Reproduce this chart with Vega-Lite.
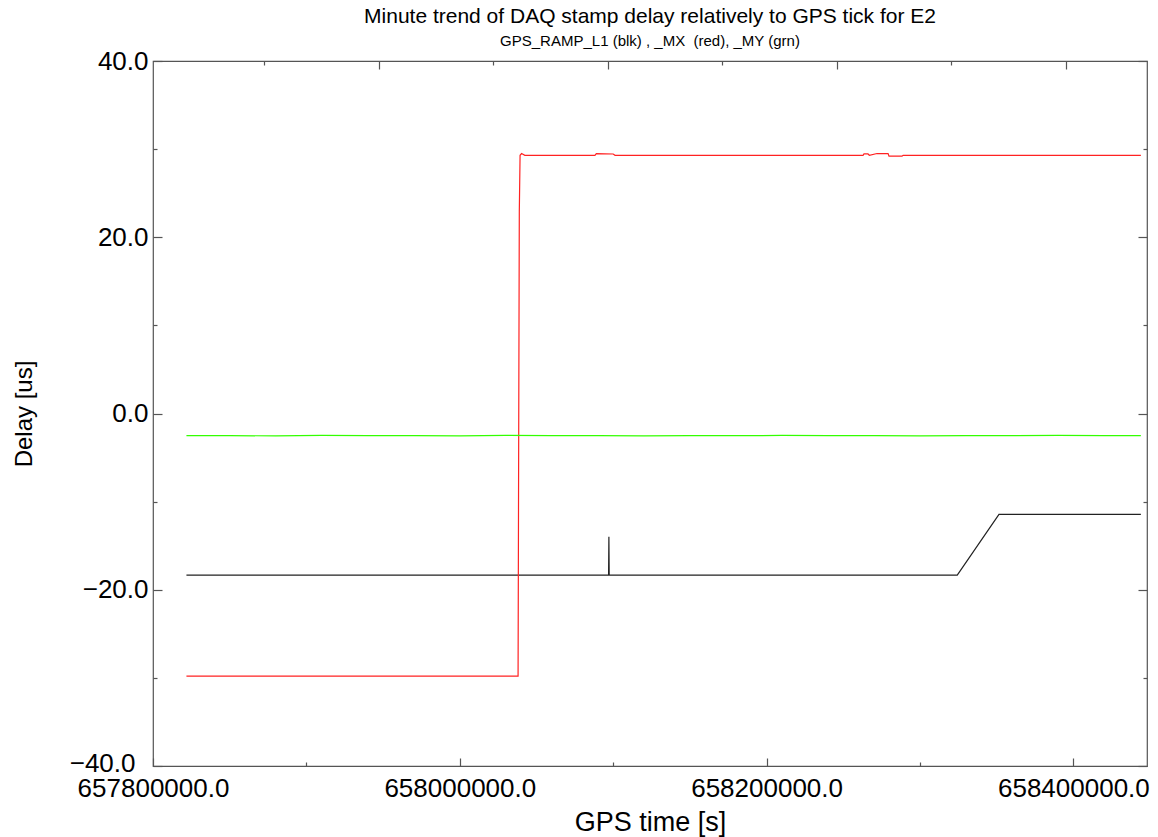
{
  "$schema": "https://vega.github.io/schema/vega-lite/v6.json",
  "autosize": "none",
  "width": 994,
  "height": 705,
  "padding": {"left": 153, "top": 61, "right": 11, "bottom": 71},
  "background": "white",
  "config": {
    "font": "Liberation Sans",
    "view": {"stroke": "#555555", "strokeWidth": 1.2},
    "axis": {"domain": false, "grid": false, "tickColor": "#555555", "tickWidth": 1.2, "labelFont": "Liberation Sans", "titleFont": "Liberation Sans", "labelColor": "#000", "titleColor": "#000", "titleFontWeight": "normal"}
  },
  "title": {
    "text": "Minute trend of DAQ stamp delay relatively to GPS tick for E2",
    "subtitle": "GPS_RAMP_L1 (blk) , _MX \u00a0(red), _MY (grn)",
    "anchor": "middle",
    "frame": "group",
    "fontSize": 21,
    "fontWeight": "normal",
    "color": "#000",
    "subtitleFontSize": 15,
    "subtitleColor": "#000",
    "subtitlePadding": 7,
    "offset": -1
  },
  "datasets": {
    "series": [
      {"s": "L1", "t": 657821800, "v": -18.33},
      {"s": "L1", "t": 657850000, "v": -18.33},
      {"s": "L1", "t": 657900000, "v": -18.33},
      {"s": "L1", "t": 657950000, "v": -18.33},
      {"s": "L1", "t": 658000000, "v": -18.33},
      {"s": "L1", "t": 658050000, "v": -18.33},
      {"s": "L1", "t": 658097000, "v": -18.33},
      {"s": "L1", "t": 658097200, "v": -13.98},
      {"s": "L1", "t": 658097400, "v": -18.33},
      {"s": "L1", "t": 658150000, "v": -18.33},
      {"s": "L1", "t": 658250000, "v": -18.33},
      {"s": "L1", "t": 658324300, "v": -18.33},
      {"s": "L1", "t": 658351500, "v": -11.44},
      {"s": "L1", "t": 658400000, "v": -11.44},
      {"s": "L1", "t": 658444000, "v": -11.44},
      {"s": "MX", "t": 657821800, "v": -29.8},
      {"s": "MX", "t": 657900000, "v": -29.8},
      {"s": "MX", "t": 658038000, "v": -29.8},
      {"s": "MX", "t": 658038300, "v": -9.3},
      {"s": "MX", "t": 658038800, "v": 22.9},
      {"s": "MX", "t": 658039300, "v": 29.3},
      {"s": "MX", "t": 658040300, "v": 29.5},
      {"s": "MX", "t": 658042400, "v": 29.3},
      {"s": "MX", "t": 658088100, "v": 29.3},
      {"s": "MX", "t": 658089000, "v": 29.5},
      {"s": "MX", "t": 658100000, "v": 29.45},
      {"s": "MX", "t": 658101200, "v": 29.3},
      {"s": "MX", "t": 658262900, "v": 29.3},
      {"s": "MX", "t": 658263500, "v": 29.45},
      {"s": "MX", "t": 658266100, "v": 29.45},
      {"s": "MX", "t": 658267000, "v": 29.3},
      {"s": "MX", "t": 658272000, "v": 29.5},
      {"s": "MX", "t": 658279200, "v": 29.5},
      {"s": "MX", "t": 658279800, "v": 29.2},
      {"s": "MX", "t": 658288300, "v": 29.2},
      {"s": "MX", "t": 658289000, "v": 29.3},
      {"s": "MX", "t": 658444000, "v": 29.3},
      {"s": "MY", "t": 657821800, "v": -2.52},
      {"s": "MY", "t": 657850000, "v": -2.5},
      {"s": "MY", "t": 657880000, "v": -2.55},
      {"s": "MY", "t": 657910000, "v": -2.48},
      {"s": "MY", "t": 657940000, "v": -2.52},
      {"s": "MY", "t": 657970000, "v": -2.5},
      {"s": "MY", "t": 658000000, "v": -2.53},
      {"s": "MY", "t": 658030000, "v": -2.49},
      {"s": "MY", "t": 658060000, "v": -2.52},
      {"s": "MY", "t": 658090000, "v": -2.5},
      {"s": "MY", "t": 658120000, "v": -2.54},
      {"s": "MY", "t": 658150000, "v": -2.5},
      {"s": "MY", "t": 658180000, "v": -2.52},
      {"s": "MY", "t": 658210000, "v": -2.49},
      {"s": "MY", "t": 658240000, "v": -2.52},
      {"s": "MY", "t": 658270000, "v": -2.5},
      {"s": "MY", "t": 658300000, "v": -2.53},
      {"s": "MY", "t": 658330000, "v": -2.5},
      {"s": "MY", "t": 658360000, "v": -2.52},
      {"s": "MY", "t": 658390000, "v": -2.49},
      {"s": "MY", "t": 658420000, "v": -2.52},
      {"s": "MY", "t": 658444000, "v": -2.5}
    ]
  },
  "data": {"name": "series"},
  "resolve": {"axis": {"x": "independent", "y": "independent"}},
  "layer": [
    {
      "mark": {"type": "line", "strokeWidth": 1.2, "clip": true},
      "encoding": {
        "x": {"field": "t", "type": "quantitative", "scale": {"domain": [657800000, 658448000], "nice": false, "zero": false},
          "axis": {"orient": "bottom", "values": [657800000, 658000000, 658200000, 658400000], "format": ".1f", "ticks": false, "labelFontSize": 26, "labelPadding": 9, "labelFlush": false, "labelOverlap": false, "title": "GPS time [s]", "titleFontSize": 27, "titlePadding": 8}},
        "y": {"field": "v", "type": "quantitative", "scale": {"domain": [-40, 40], "nice": false, "zero": false},
          "axis": {"orient": "left", "values": [40, 20, 0, -20], "format": ".1f", "ticks": false, "labelFontSize": 26, "labelPadding": 5, "title": "Delay [us]", "titleFontSize": 24, "titlePadding": 46}},
        "color": {"field": "s", "type": "nominal", "sort": ["L1", "MX", "MY"], "scale": {"domain": ["L1", "MX", "MY"], "range": ["#222222", "#ff2222", "#33ff00"]}, "legend": null}
      }
    },
    {
      "mark": {"type": "point", "opacity": 0},
      "encoding": {
        "x": {"field": "t", "type": "quantitative", "scale": {"domain": [657800000, 658448000], "nice": false, "zero": false},
          "axis": {"orient": "bottom", "values": [657800000, 658000000, 658200000, 658400000], "tickSize": -8, "labels": false, "title": null}},
        "y": {"field": "v", "type": "quantitative", "scale": {"domain": [-40, 40], "nice": false, "zero": false},
          "axis": {"orient": "left", "values": [-40], "format": ".1f", "ticks": false, "labelFontSize": 26, "labelPadding": 18, "labelBaseline": "middle", "labelOffset": -3, "labelFlush": false, "title": null}}
      }
    },
    {
      "mark": {"type": "point", "opacity": 0},
      "encoding": {
        "x": {"field": "t", "type": "quantitative", "scale": {"domain": [657800000, 658448000], "nice": false, "zero": false},
          "axis": {"orient": "bottom", "values": [657900000, 658100000, 658300000], "tickSize": -4, "labels": false, "title": null}},
        "y": {"field": "v", "type": "quantitative", "scale": {"domain": [-40, 40], "nice": false, "zero": false},
          "axis": {"orient": "left", "values": [-40, -20, 0, 20, 40], "tickSize": -9, "labels": false, "title": null}}
      }
    },
    {
      "mark": {"type": "point", "opacity": 0},
      "encoding": {
        "x": {"field": "t", "type": "quantitative", "scale": {"domain": [657800000, 658448000], "nice": false, "zero": false},
          "axis": {"orient": "top", "values": [657947200, 658096600, 658246000, 658395400], "tickSize": -8, "labels": false, "title": null}},
        "y": {"field": "v", "type": "quantitative", "scale": {"domain": [-40, 40], "nice": false, "zero": false},
          "axis": {"orient": "left", "values": [-30, -10, 10, 30], "tickSize": -4, "labels": false, "title": null}}
      }
    },
    {
      "mark": {"type": "point", "opacity": 0},
      "encoding": {
        "x": {"field": "t", "type": "quantitative", "scale": {"domain": [657800000, 658448000], "nice": false, "zero": false},
          "axis": {"orient": "top", "values": [657872200, 658021500, 658171000, 658320400], "tickSize": -4, "labels": false, "title": null}},
        "y": {"field": "v", "type": "quantitative", "scale": {"domain": [-40, 40], "nice": false, "zero": false},
          "axis": {"orient": "right", "values": [-40, -20, 0, 20, 40], "tickSize": -9, "labels": false, "title": null}}
      }
    },
    {
      "mark": {"type": "point", "opacity": 0},
      "encoding": {
        "x": {"field": "t", "type": "quantitative", "scale": {"domain": [657800000, 658448000], "nice": false, "zero": false}, "axis": null},
        "y": {"field": "v", "type": "quantitative", "scale": {"domain": [-40, 40], "nice": false, "zero": false},
          "axis": {"orient": "right", "values": [-30, -10, 10, 30], "tickSize": -4, "labels": false, "title": null}}
      }
    }
  ]
}
